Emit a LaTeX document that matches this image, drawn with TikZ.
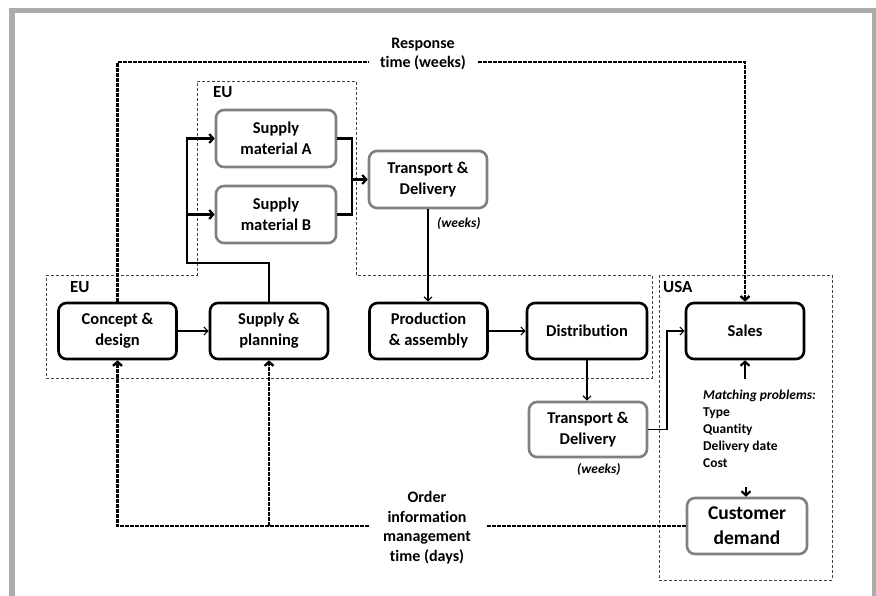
\documentclass[tikz,border=0pt]{standalone}
\usepackage{fontspec}
\setmainfont{Carlito}[Ligatures=NoCommon]
\usetikzlibrary{arrows.meta}
\begin{document}
\begin{tikzpicture}[x=1pt,y=-1pt,
  box/.style={draw, rounded corners=8pt, line width=2.6pt, minimum width=118pt, minimum height=56pt, align=center, inner sep=2pt, font=\bfseries\fontsize{16.5}{21}\selectfont},
  gbox/.style={box, draw=black!50},
  region/.style={draw=black!75, line width=0.8pt, dash pattern=on 3pt off 2pt},
  tarr/.style={line width=1.2pt, -{Straight Barb[length=4pt,width=8pt]}},
  karr/.style={line width=2.2pt, -{Straight Barb[length=4pt,width=9pt]}},
  kline/.style={line width=2.2pt},
  dline/.style={line width=2.4pt, dash pattern=on 4pt off 1pt},
  darr/.style={dline, -{Straight Barb[length=4pt,width=9pt]}},
  lbl/.style={font=\bfseries\fontsize{16}{19.5}\selectfont, align=center, inner sep=0pt},
  reg/.style={font=\bfseries\fontsize{17}{20}\selectfont, anchor=base west, inner sep=0pt},
  wk/.style={font=\bfseries\itshape\fontsize{13.5}{16}\selectfont, anchor=base west, inner sep=0pt}
]
\useasboundingbox (0,0) rectangle (876,596);
% outer gray frame
\fill[black!33] (9,8) rectangle (15,596);
\fill[black!33] (9,8) rectangle (876,13);
\fill[black!33] (872,8) rectangle (876,596);

% regions
\draw[region] (46,275) -- (197,275) -- (197,81) -- (356,81) -- (356,275) -- (652,275) -- (652,378) -- (46,378) -- cycle;
\draw[region] (659,275) rectangle (832,580);
\node[reg] (eu1) at (213,98) {EU};
\node[reg] (eu2) at (70,293) {EU};
\node[reg] (usa) at (663,293) {USA};

% boxes
\node[box] (concept) at (117.5,331) {Concept \&\\design};
\node[box] (supply) at (269,331) {Supply \&\\planning};
\node[box] (prod) at (428.5,331) {Production\\\& assembly};
\node[box, minimum width=120pt] (dist) at (587,331) {Distribution};
\node[box] (sales) at (745,331) {Sales};
\node[gbox, minimum width=120pt, minimum height=57pt] (matA) at (276,138.5) {Supply\\material A};
\node[gbox, minimum width=120pt, minimum height=57pt] (matB) at (276,214.5) {Supply\\material B};
\node[gbox, minimum height=57pt] (td1) at (428,179.5) {Transport \&\\Delivery};
\node[gbox, minimum height=55pt] (td2) at (588,429.5) {Transport \&\\Delivery};
\node[gbox, minimum width=120pt, font=\bfseries\fontsize{19.5}{25}\selectfont] (cust) at (747,526) {Customer\\demand};

% labels
\node[wk] (wk1) at (437,228) {(weeks)};
\node[wk] (wk2) at (577,473) {(weeks)};
\node[lbl] (resp) at (423,54) {Response\\time (weeks)};
\node[lbl] (order) at (427,527.5) {Order\\information\\management\\time (days)};
\node[font=\bfseries\fontsize{13.5}{17}\selectfont, align=left, anchor=north west, inner sep=0pt] (match) at (703,390)
  {\textit{Matching problems:}\\Type\\Quantity\\Delivery date\\Cost};

% supply connectors
\coordinate (j1) at (187,263);
\coordinate (j2) at (352,179.5);
\draw[karr] (supply.north) |- (j1) |- (matA.west);
\draw[karr] (j1 |- matB.west) -- (matB.west);
\draw[kline] (matA.east) -| (j2);
\draw[kline] (matB.east) -| (j2);
\draw[karr] (j2) -- (td1.west);

% flow connectors
\draw[tarr] (concept.east) -- (supply.west);
\draw[tarr] (td1.south) -- (td1.south |- prod.north);
\draw[tarr] (prod.east) -- (dist.west);
\draw[tarr] (dist.south) -- (dist.south |- td2.north);
\coordinate (j3) at (667,429.5);
\draw[tarr] (td2.east) -- (j3) |- (sales.west);

% matching arrows
\coordinate (m1) at (745,379);
\coordinate (m2) at (746,487);
\draw[karr] (m1) -- (sales.south);
\draw[karr] (m2) -- (m2 |- cust.north);

% response time line
\coordinate (rl) at (369,62);
\coordinate (rr) at (478,62);
\draw[dline] (concept.north) |- (rl);
\draw[darr] (rr) -| (sales.north);

% order information line
\coordinate (ol) at (369,526);
\coordinate (or) at (486,526);
\coordinate (ob) at (269,526);
\draw[dline] (cust.west) -- (or);
\draw[darr] (ol) -| (concept.south);
\draw[darr] (ob) -- (supply.south);
\end{tikzpicture}
\end{document}
